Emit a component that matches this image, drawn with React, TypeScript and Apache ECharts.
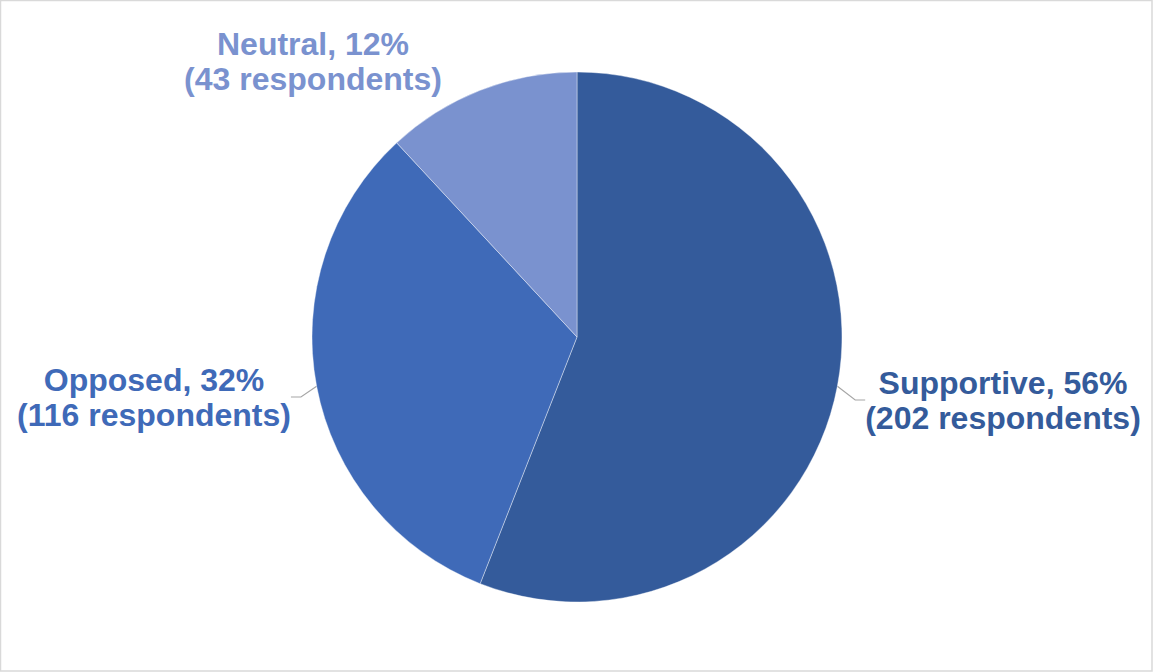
import React, { useEffect, useRef } from "react";
import * as echarts from "echarts";

const categories = ["Supportive", "Opposed", "Neutral"];
const respondents = [202, 116, 43];
const colors = ["#345B9B", "#3F6AB8", "#7A92CF"];
const labelCenters = [
  [1003, 400],
  [154, 397],
  [313, 61],
];

export default function App() {
  const ref = useRef<HTMLDivElement>(null);
  useEffect(() => {
    if (!ref.current) return;
    const chart = echarts.init(ref.current, undefined, { renderer: "svg" });
    const total = respondents.reduce((a, b) => a + b, 0);
    const data = categories.map((name, i) => ({
      name,
      value: respondents[i],
      itemStyle: { color: colors[i] },
      label: { color: colors[i] },
      labelLine: { show: i !== 2 },
    }));
    chart.setOption({
      animation: false,
      backgroundColor: "#ffffff",
      graphic: [
        {
          type: "rect",
          shape: { x: 0.5, y: 0.5, width: 1151.5, height: 670.5 },
          style: { fill: "none", stroke: "#d9d9d9", lineWidth: 1.5 },
          silent: true,
        },
      ],
      series: [
        {
          type: "pie",
          center: [577, 337],
          radius: 265,
          startAngle: 90,
          clockwise: true,
          data,
          itemStyle: { borderColor: "#ffffff", borderWidth: 0.4 },
          label: {
            show: true,
            position: "outside",
            formatter: (p: any) =>
              `${p.name}, ${Math.round((p.value / total) * 100)}%\n(${p.value} respondents)`,
            fontFamily: "Liberation Sans, Arial, sans-serif",
            fontWeight: "bold",
            fontSize: 32,
            lineHeight: 35,
            align: "center",
          },
          labelLine: {
            show: true,
            length: 10,
            length2: 10,
            lineStyle: { color: "#a6a6a6", width: 1.2 },
          },
          labelLayout: (params: any) => {
            const c = labelCenters[params.dataIndex];
            return { x: c[0], y: c[1], align: "center", verticalAlign: "middle" };
          },
        },
      ],
    });
    return () => chart.dispose();
  }, []);
  return (
    <div
      ref={ref}
      style={{ position: "fixed", left: 0, top: 0, width: 1153, height: 672 }}
    />
  );
}
